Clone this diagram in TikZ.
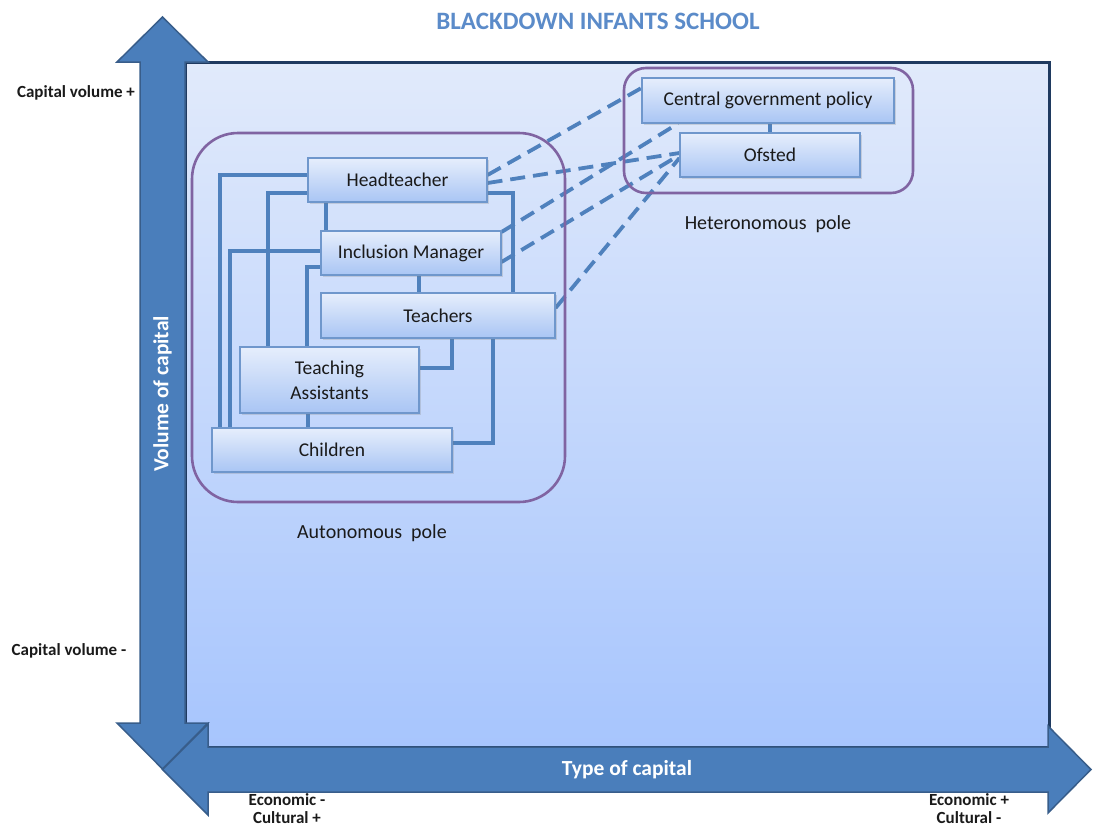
\documentclass[tikz,border=0pt]{standalone}
\usepackage{fontspec}
\setmainfont{Carlito}
\usetikzlibrary{shadows}
\definecolor{axisfill}{HTML}{4A7EBB}
\definecolor{axisedge}{HTML}{385D8A}
\definecolor{panelborder}{HTML}{1F3A60}
\definecolor{paneltop}{HTML}{E1EAFB}
\definecolor{panelbottom}{HTML}{A7C5FD}
\definecolor{boxtop}{HTML}{E6EEFC}
\definecolor{boxbottom}{HTML}{A9C5F4}
\definecolor{boxedge}{HTML}{6F97CC}
\definecolor{linkblue}{HTML}{4F81BD}
\definecolor{polepurple}{HTML}{8064A2}
\definecolor{titleblue}{HTML}{5B8BC9}
\definecolor{ink}{HTML}{1A1A1A}
\pgfdeclarelayer{back}
\pgfdeclarelayer{links}
\pgfsetlayers{back,links,main}
\tikzset{
  rolebox/.style={draw=boxedge, line width=1.1pt, top color=boxtop, bottom color=boxbottom,
    drop shadow={shadow xshift=1.5pt, shadow yshift=-1.5pt, opacity=0.25},
    text=ink, align=center, inner sep=0pt, font=\fontsize{19.5}{25}\selectfont},
  solidlink/.style={draw=linkblue, line width=3.8pt},
  dashlink/.style={draw=linkblue, line width=3.8pt, dash pattern=on 15pt off 8pt},
  polebox/.style={draw=polepurple, line width=2.6pt},
  axis/.style={fill=axisfill, draw=axisedge, line width=1.5pt, line join=miter},
  axislabel/.style={text=white, font=\bfseries\fontsize{21.5}{24}\selectfont},
  endlabel/.style={text=ink, font=\bfseries\fontsize{17}{18}\selectfont, align=center, inner sep=1pt},
  polelabel/.style={text=ink, font=\fontsize{20}{23}\selectfont},
}
\begin{document}
\begin{tikzpicture}[x=1pt, y=-1pt]
\useasboundingbox (0,0) rectangle (1093,830);

\begin{pgfonlayer}{back}
  % field panel
  \shade[top color=paneltop, bottom color=panelbottom] (185,62) rectangle (1049,747);
  \draw[panelborder, line width=3pt] (185,62) rectangle (1049,747);
  % vertical double arrow: volume of capital
  \path[axis] (162.5,17) -- (208,62) -- (185,62) -- (185,723) -- (208,723) -- (162.5,769)
    -- (117,723) -- (140,723) -- (140,62) -- (117,62) -- cycle;
  % horizontal double arrow: type of capital
  \path[axis] (162.5,769.5) -- (208,724) -- (208,747) -- (1048,747) -- (1048,726)
    -- (1091,769.5) -- (1048,813) -- (1048,792) -- (208,792) -- (208,815) -- cycle;
\end{pgfonlayer}

\node[axislabel, rotate=90] (vlabel) at (162.5,394) {Volume of capital};
\node[axislabel] (hlabel) at (627,770) {Type of capital};

% title and end labels
\node[text=titleblue, font=\bfseries\fontsize{25}{28}\selectfont] (title) at (598,21) {BLACKDOWN INFANTS SCHOOL};
\node[endlabel] (cvplus) at (76,93) {Capital volume +};
\node[endlabel] (cvminus) at (69,651) {Capital volume -};
\node[endlabel] (ecominus) at (287,809) {Economic -\\Cultural +};
\node[endlabel] (ecoplus) at (969,809) {Economic +\\Cultural -};

% poles
\draw[polebox, rounded corners=46pt] (192,133) rectangle (565,502);
\draw[polebox, rounded corners=22pt] (624,68) rectangle (913,193);
\node[polelabel] (autolabel) at (372,533) {Autonomous\ \ pole};
\node[polelabel] (heterolabel) at (768,224) {Heteronomous\ \ pole};

% actors
\node[rolebox, minimum width=179pt, minimum height=44pt] (ht) at (397.5,180) {Headteacher};
\node[rolebox, minimum width=180pt, minimum height=44pt] (im) at (411,253) {Inclusion Manager};
\node[rolebox, minimum width=234pt, minimum height=45pt] (te) at (438,315.5) {Teachers};
\node[rolebox, minimum width=179pt, minimum height=66pt] (ta) at (329.5,380) {Teaching\\Assistants};
\node[rolebox, minimum width=240pt, minimum height=44pt] (ch) at (332,450) {Children};
\node[rolebox, minimum width=252pt, minimum height=45pt] (cgp) at (768,100.5) {Central government policy};
\node[rolebox, minimum width=180pt, minimum height=44pt] (of) at (770,155) {Ofsted};

\begin{pgfonlayer}{links}
  % internal relations of the school
  \draw[solidlink] (ht.west |- 0,175) -| (ch.north -| 220,0);
  \draw[solidlink] (ht.west |- 0,193) -| (ta.north -| 268,0);
  \draw[solidlink] (ht.south -| 326,0) -- (im.north -| 326,0);
  \draw[solidlink] (im.west |- 0,251) -| (ch.north -| 230,0);
  \draw[solidlink] (im.west |- 0,267) -| (ta.north -| 307,0);
  \draw[solidlink] (im.south -| 419,0) -- (te.north -| 419,0);
  \draw[solidlink] (ht.east |- 0,193) -| (te.north -| 513,0);
  \draw[solidlink] (te.south -| 452,0) |- (ta.east |- 0,368);
  \draw[solidlink] (te.south -| 493,0) |- (ch.east |- 0,443);
  \draw[solidlink] (ta.south -| 308,0) -- (ch.north -| 308,0);
  \draw[solidlink] (cgp.south -| 770,0) -- (of.north -| 770,0);
  % external pressures
  \draw[dashlink] (ht.east |- 0,175) -- (cgp.west |- 0,88);
  \draw[dashlink] (ht.east |- 0,183) -- (of.west |- 0,153);
  \draw[dashlink] (im.east |- 0,232) -- (cgp.south -| 678,0);
  \draw[dashlink] (im.east |- 0,262) -- (of.west |- 0,155);
  \draw[dashlink] (te.east |- 0,308) -- (of.west |- 0,158);
\end{pgfonlayer}
\end{tikzpicture}
\end{document}
